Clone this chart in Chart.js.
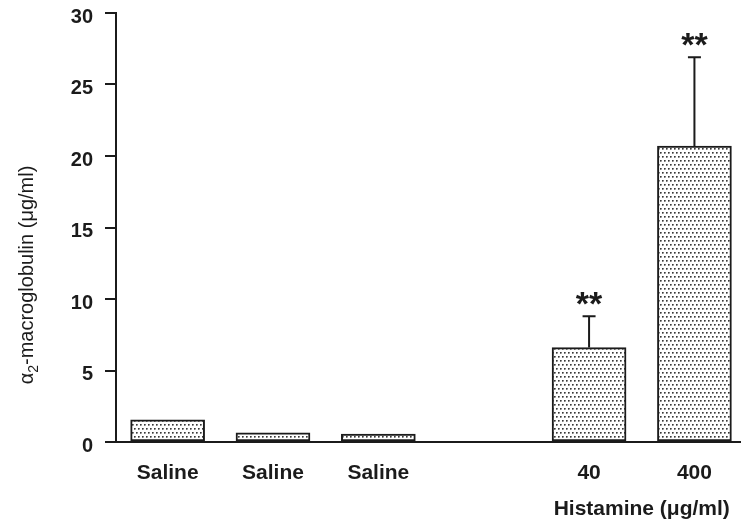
<!DOCTYPE html>
<html>
<head>
<meta charset="utf-8">
<script src="https://cdn.jsdelivr.net/npm/chart.js@4/dist/chart.umd.min.js"></script>
<style>
  html, body { margin: 0; padding: 0; background: #fff; overflow: hidden; }
  #wrap { width: 741px; height: 523px; }
</style>
</head>
<body>
<div id="wrap"><canvas id="c" width="741" height="523"></canvas></div>
<script>
// Groups along the x axis (empty slot separates saline controls from histamine doses)
const categories = ['Saline', 'Saline', 'Saline', '', '40', '400'];
// Mean alpha2-macroglobulin concentration (µg/ml)
const meanValues = [1.55, 0.65, 0.55, null, 6.6, 20.7];
// Upper error (SEM) above each bar
const errorValues = [null, null, null, null, 2.2, 6.2];
// Significance markers
const significance = ['', '', '', '', '**', '**'];
// Y axis ticks
const yMin = 0, yMax = 30, yStep = 5;
const groupTitle = 'Histamine (μg/ml)';

const INK = '#1b1b1b';
const FONT = '"Liberation Sans", Arial, Helvetica, sans-serif';

const canvas = document.getElementById('c');
const ctx2d = canvas.getContext('2d');

// Stippled fill used for the bars
function makeStipple() {
  const t = document.createElement('canvas');
  t.width = 4; t.height = 8;
  const g = t.getContext('2d');
  g.fillStyle = '#ffffff';
  g.fillRect(0, 0, 4, 8);
  const dot = (x, y) => {
    g.fillStyle = '#3a3a3a'; g.fillRect(x, y, 1, 1);
    g.fillStyle = '#7a7a7a'; g.fillRect(x + 1, y, 1, 1); g.fillRect(x, y + 1, 1, 1);
    g.fillStyle = '#b5b5b5'; g.fillRect(x + 1, y + 1, 1, 1);
  };
  dot(0, 0);
  dot(2, 4);
  return ctx2d.createPattern(t, 'repeat');
}
const stipple = makeStipple();

const slots = categories.map((c, i) => i + 1);
const barData = [];
meanValues.forEach((v, i) => { if (v !== null) barData.push({ x: slots[i], y: v }); });

// Upward error bars and significance stars
const errorPlugin = {
  id: 'errorBars',
  afterDatasetsDraw(chart) {
    const { ctx, scales: { x, y } } = chart;
    ctx.save();
    ctx.strokeStyle = INK;
    ctx.lineWidth = 2;
    meanValues.forEach((v, i) => {
      if (v === null || errorValues[i] === null) return;
      const px = x.getPixelForValue(slots[i]);
      const top = y.getPixelForValue(v + errorValues[i]);
      const base = y.getPixelForValue(v);
      ctx.beginPath();
      ctx.moveTo(px, base);
      ctx.lineTo(px, top);
      ctx.moveTo(px - 6.5, top);
      ctx.lineTo(px + 6.5, top);
      ctx.stroke();
      if (significance[i]) {
        ctx.fillStyle = INK;
        ctx.font = 'bold 34px ' + FONT;
        ctx.textAlign = 'center';
        ctx.textBaseline = 'alphabetic';
        ctx.fillText(significance[i], px, top - 1);
      }
    });
    ctx.restore();
  }
};

// Axis titles: y title with subscript, group title under the histamine doses
const titlesPlugin = {
  id: 'axisTitles',
  afterDraw(chart) {
    const { ctx, scales: { x } } = chart;
    ctx.save();
    ctx.fillStyle = INK;
    const main = '20px ' + FONT;
    const sub = '14px ' + FONT;
    const parts = [
      { t: 'α', f: main, dy: 0 },
      { t: '2', f: sub, dy: 5 },
      { t: '-macroglobulin (μg/ml)', f: main, dy: 0 }
    ];
    let total = 0;
    parts.forEach(p => { ctx.font = p.f; p.w = ctx.measureText(p.t).width; total += p.w; });
    ctx.translate(33, 275);
    ctx.rotate(-Math.PI / 2);
    ctx.textAlign = 'left';
    ctx.textBaseline = 'alphabetic';
    let u = -total / 2;
    parts.forEach(p => { ctx.font = p.f; ctx.fillText(p.t, u, p.dy); u += p.w; });
    ctx.setTransform(1, 0, 0, 1, 0, 0);
    ctx.font = 'bold 21px ' + FONT;
    ctx.textAlign = 'center';
    ctx.textBaseline = 'middle';
    ctx.fillText(groupTitle, x.getPixelForValue(5.5), 509);
    ctx.restore();
  }
};

new Chart(canvas, {
  type: 'bar',
  data: {
    datasets: [{
      data: barData,
      backgroundColor: stipple,
      borderColor: INK,
      borderWidth: 2,
      borderSkipped: false,
      barThickness: 74
    }]
  },
  options: {
    responsive: false,
    animation: false,
    layout: { padding: { top: 13, right: 0, bottom: 0, left: 0 } },
    plugins: { legend: { display: false }, tooltip: { enabled: false } },
    scales: {
      x: {
        type: 'linear',
        offset: false,
        min: 0.51,
        max: 6.442,
        afterFit(scale) { scale.height = 81; scale.paddingLeft = 0; scale.paddingRight = 0; },
        afterBuildTicks(scale) {
          scale.ticks = slots.filter((s, i) => categories[i] !== '').map(v => ({ value: v }));
        },
        grid: { display: false, drawTicks: false, offset: false },
        border: { display: true, color: INK, width: 2 },
        ticks: {
          autoSkip: false,
          maxRotation: 0,
          padding: 19,
          color: INK,
          font: { family: FONT, size: 21, weight: 'bold' },
          callback: (v) => categories[v - 1] ?? ''
        }
      },
      y: {
        min: yMin,
        max: yMax,
        afterFit(scale) { scale.width = 116; scale.paddingTop = 0; scale.paddingBottom = 0; },
        grid: { display: true, drawOnChartArea: false, drawTicks: true, tickLength: 11, color: INK, lineWidth: 2 },
        border: { display: true, color: INK, width: 2 },
        ticks: {
          stepSize: yStep,
          padding: 12,
          labelOffset: 4,
          color: INK,
          font: { family: FONT, size: 20, weight: 'bold' }
        }
      }
    }
  },
  plugins: [errorPlugin, titlesPlugin]
});
</script>
</body>
</html>
